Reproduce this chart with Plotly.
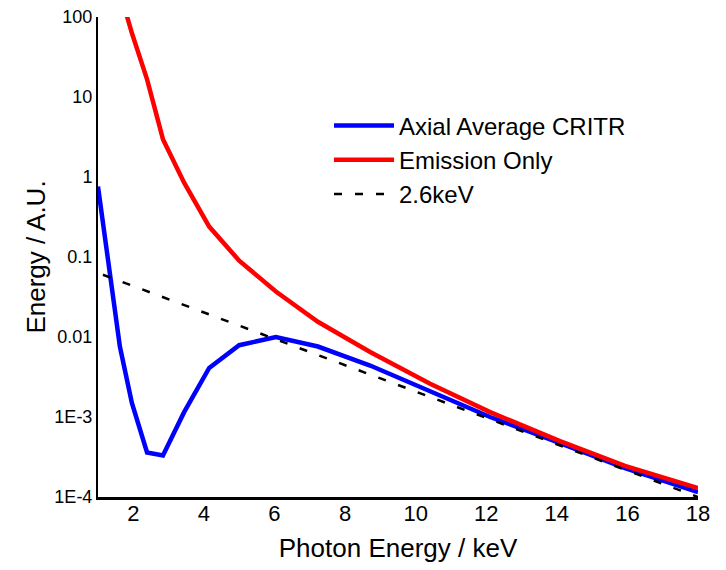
import plotly.graph_objects as go

# Photon energy grid (keV) shared by both spectra
energy = [1.00, 1.62, 1.96, 2.39, 2.84, 3.44, 4.15, 5.00, 6.04, 7.23,
          8.71, 10.41, 12.11, 14.09, 15.93, 18.0]

# Axially averaged CRITR spectrum
critr = [0.76, 0.0076, 0.0015, 3.6e-4, 3.3e-4, 1.15e-3, 4.1e-3, 7.9e-3,
         0.0100, 0.0076, 0.0044, 0.0021, 1.0e-3, 4.7e-4, 2.3e-4, 1.15e-4]

# Emission-only spectrum
emission = [205, 63, 16.6, 2.97, 0.85, 0.24, 0.090, 0.037, 0.0155,
            0.0065, 0.0026, 0.00115, 5.0e-4, 2.45e-4, 1.29e-4]
emission_energy = energy[1:]

# 2.6 keV thermal reference line (straight on the log axis)
ref_energy = [1.14, 18.0]
ref_value = [0.060, 1.0e-4]

y_tickvals = [1e-4, 1e-3, 1e-2, 1e-1, 1, 10, 100]
y_ticktext = ["1E-4", "1E-3", "0.01", "0.1", "1", "10", "100"]
x_tickvals = [2, 4, 6, 8, 10, 12, 14, 16, 18]

font_family = "Liberation Sans, Arial, sans-serif"

fig = go.Figure()
fig.add_trace(go.Scatter(x=energy, y=critr, mode="lines",
                         name="Axial Average CRITR",
                         line=dict(color="#0000ff", width=4.5)))
fig.add_trace(go.Scatter(x=emission_energy, y=emission, mode="lines",
                         name="Emission Only",
                         line=dict(color="#ff0000", width=4.5)))
fig.add_trace(go.Scatter(x=ref_energy, y=ref_value, mode="lines",
                         name="2.6keV",
                         line=dict(color="black", width=2.5, dash="8px,13px")))

fig.update_layout(
    width=726, height=570,
    margin=dict(l=98, r=28, t=17, b=73, autoexpand=False),
    paper_bgcolor="white", plot_bgcolor="white",
    font=dict(family=font_family, color="black"),
    showlegend=True,
    legend=dict(x=0.385, y=0.82, xanchor="left", yanchor="top",
                bgcolor="rgba(0,0,0,0)", font=dict(size=24),
                itemwidth=60, tracegroupgap=0),
)
fig.update_xaxes(range=[1, 18], tickvals=x_tickvals, showgrid=False,
                 zeroline=False, showline=True, linecolor="black",
                 linewidth=2.5, ticks="", tickfont=dict(size=22),
                 ticklabelstandoff=-5, automargin=False,
                 title=dict(text="Photon Energy / keV", font=dict(size=26),
                            standoff=14))
fig.update_yaxes(type="log", range=[-4, 2], tickvals=y_tickvals,
                 ticktext=y_ticktext, showgrid=False, zeroline=False,
                 showline=True, linecolor="black", linewidth=2, ticks="",
                 tickfont=dict(size=18), ticklabelstandoff=0,
                 automargin=False,
                 title=dict(text="Energy / A.U.", font=dict(size=26),
                            standoff=1))

fig.write_html("out.html")
